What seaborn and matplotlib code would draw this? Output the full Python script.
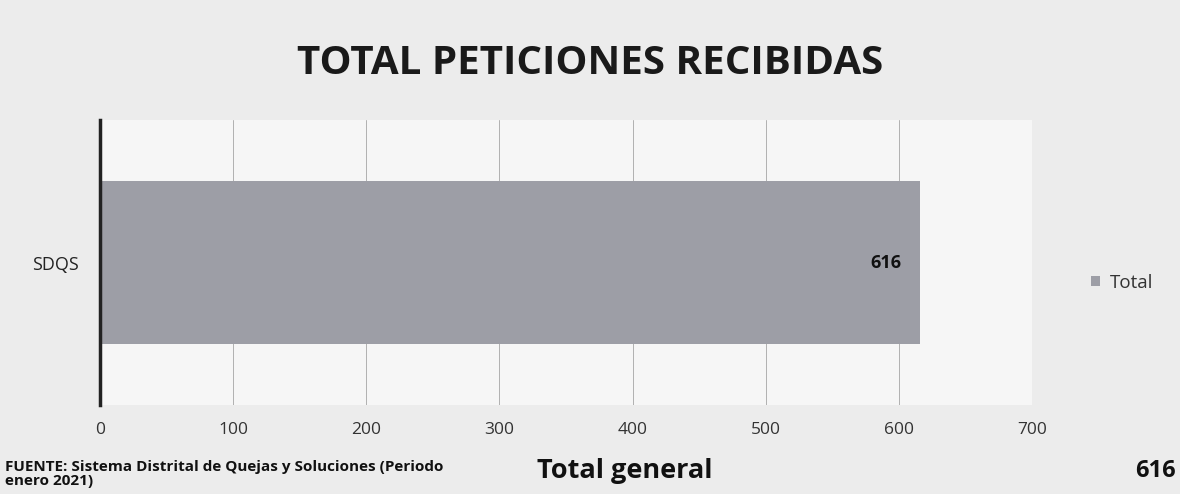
import pandas as pd
import matplotlib.pyplot as plt
import seaborn as sns

# datos del gráfico
categorias = ["SDQS"]
totales = [616]
ticks_x = [0, 100, 200, 300, 400, 500, 600, 700]

df = pd.DataFrame({"categoria": categorias, "Total": totales})

sns.set_style("white")
plt.rcParams["font.family"] = ["Open Sans", "DejaVu Sans"]

fig = plt.figure(figsize=(11.8, 4.94), dpi=100)
fig.patch.set_facecolor("#ececec")
ax = fig.add_axes([0.0847, 0.18, 0.79, 0.577])
ax.set_facecolor("#f6f6f6")

sns.barplot(data=df, x="Total", y="categoria", color="#9d9ea6",
            width=0.57, saturation=1, ax=ax, label="Total",
            edgecolor="none", zorder=2)

ax.set_xlim(0, 700)
ax.set_xticks(ticks_x)
ax.set_xticklabels([str(t) for t in ticks_x], fontsize=12.5, color="#333333")
ax.tick_params(axis="y", labelsize=13, pad=15, length=0, labelcolor="#222222")
ax.tick_params(axis="x", pad=12, length=0)
ax.xaxis.grid(True, color="#b0b0b0", linewidth=0.7, zorder=0)
ax.set_axisbelow(True)
for s in ["top", "right", "bottom"]:
    ax.spines[s].set_visible(False)
ax.spines["left"].set_color("#222222")
ax.spines["left"].set_linewidth(2.5)
ax.set_xlabel("")
ax.set_ylabel("")

# etiqueta del valor
for i, v in enumerate(totales):
    ax.text(v - 14, i, str(v), ha="right", va="center",
            fontsize=13, fontweight="bold", color="#111111")

ax.legend(loc="center left", bbox_to_anchor=(1.045, 0.43), frameon=False,
          fontsize=13.5, handlelength=0.5, handleheight=0.5, handletextpad=0.5,
          labelcolor="#333333")

fig.text(0.5, 0.872, "TOTAL PETICIONES RECIBIDAS", ha="center", va="center",
         fontsize=29, fontweight="bold", color="#1a1a1a")

fig.text(0.004, 0.012, "FUENTE: Sistema Distrital de Quejas y Soluciones (Periodo\nenero 2021)",
         ha="left", va="bottom", fontsize=11, fontweight="bold",
         color="#111111", linespacing=1.0)
fig.text(0.455, 0.046, "Total general", ha="left", va="center",
         fontsize=19.5, fontweight="bold", color="#111111")
fig.text(0.996, 0.046, str(sum(totales)), ha="right", va="center",
         fontsize=17, fontweight="bold", color="#111111")

plt.savefig("out.png", dpi=100, facecolor=fig.get_facecolor())
